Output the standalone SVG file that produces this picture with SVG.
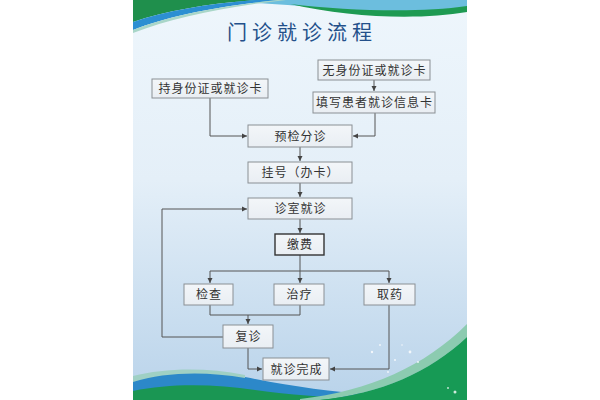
<svg xmlns="http://www.w3.org/2000/svg" width="600" height="400" viewBox="0 0 600 400">
<defs>
<linearGradient id="bg" x1="0" y1="0" x2="0" y2="1">
<stop offset="0" stop-color="#eef6fc"/>
<stop offset="0.45" stop-color="#e4eff8"/>
<stop offset="1" stop-color="#b9d3ea"/>
</linearGradient>
<linearGradient id="boxfill" x1="0" y1="0" x2="0" y2="1">
<stop offset="0" stop-color="#f3f6f9"/>
<stop offset="1" stop-color="#e9eef3"/>
</linearGradient>
<marker id="ah" markerWidth="6" markerHeight="6" refX="5" refY="3" orient="auto" markerUnits="userSpaceOnUse">
<path d="M0,0.5 L5,3 L0,5.5 Z" fill="#444"/>
</marker>
<style>
.box{fill:url(#boxfill);stroke:#8a8f94;stroke-width:1}
.box.dark{stroke:#333;stroke-width:1.4}
.lbl{font-family:"Noto Sans CJK SC","Noto Sans",sans-serif;font-size:12px;fill:#333;text-anchor:middle;letter-spacing:1px}
.title{font-family:"Noto Sans CJK SC","Noto Sans",sans-serif;font-size:20px;fill:#23508a;text-anchor:middle;letter-spacing:5px}
.ln{fill:none;stroke:#555;stroke-width:1}
</style>
</defs>
<rect width="600" height="400" fill="#ffffff"/>
<rect x="133" y="0" width="334" height="400" fill="url(#bg)"/>
<!-- top swooshes -->
<path d="M200,0 H467 V7 C420,13 360,12 300,6 C260,3 230,1 200,0 Z" fill="#6cbede"/>
<path d="M290,4 C350,11 420,13 467,6 V12 C420,20 350,18 290,4 Z" fill="#1e9a52"/>
<path d="M133,0 H255 C205,4 165,11 133,22 Z" fill="#1f8f4c"/>
<path d="M133,22 C165,11 205,4 255,0 H278 C218,6 168,16 133,30 Z" fill="#2c8fd2"/>
<path d="M133,30 C168,16 218,6 278,0 H286 C224,7 172,18 133,33 Z" fill="#a9d6c8"/>
<!-- bottom swooshes -->
<path d="M133,380 C165,370 205,369 245,377 C290,386 330,392 370,394 L370,400 H133 Z" fill="#2c88c9"/>
<path d="M133,376 C165,368 205,367 245,375 L245,378 C205,371 165,372 133,382 Z" fill="#9fd0c4"/>
<path d="M133,391 C170,383 215,384 255,390 C300,396 340,399 380,397 L380,400 H133 Z" fill="#1a9653"/>
<path d="M300,399 C370,391 425,366 467,324 V337 C430,372 380,394 320,400 H300 Z" fill="#8ccbb0"/>
<path d="M320,400 C380,394 430,372 467,337 V400 Z" fill="#179a55"/>
<g fill="#ffffff" opacity="0.8">
<circle cx="372" cy="352" r="1.2"/><circle cx="380" cy="345" r="0.9"/><circle cx="395" cy="360" r="1"/>
<circle cx="410" cy="352" r="1.4"/><circle cx="418" cy="362" r="1"/><circle cx="388" cy="372" r="0.9"/>
<circle cx="455" cy="392" r="1.5"/><circle cx="448" cy="388" r="0.9"/><circle cx="402" cy="345" r="0.8"/>
</g>
<text class="title" x="302" y="40">门诊就诊流程</text>
<g id="connectors">
<path class="ln" d="M374,80 V91" marker-end="url(#ah)"/>
<path class="ln" d="M210,98 V136 H247" marker-end="url(#ah)"/>
<path class="ln" d="M375,113 V136 H353" marker-end="url(#ah)"/>
<path class="ln" d="M300,147 V161" marker-end="url(#ah)"/>
<path class="ln" d="M300,183 V197" marker-end="url(#ah)"/>
<path class="ln" d="M300,219 V233" marker-end="url(#ah)"/>
<path class="ln" d="M300,255 V283" marker-end="url(#ah)"/>
<path class="ln" d="M210,271 H389"/>
<path class="ln" d="M210,271 V283" marker-end="url(#ah)"/>
<path class="ln" d="M389,271 V283" marker-end="url(#ah)"/>
<path class="ln" d="M210,305 V315 H300 V305"/>
<path class="ln" d="M248,315 V324" marker-end="url(#ah)"/>
<path class="ln" d="M223,337 H162 V209 H247" marker-end="url(#ah)"/>
<path class="ln" d="M248,348 V369 H262" marker-end="url(#ah)"/>
<path class="ln" d="M389,305 V369 H330" marker-end="url(#ah)"/>
</g>
<g id="n1"><rect class="box" x="318" y="60" width="112" height="20"/><text class="lbl" x="374.5" y="74.5">无身份证或就诊卡</text></g>
<g id="n2"><rect class="box" x="152" y="79" width="116" height="19"/><text class="lbl" x="210.5" y="93">持身份证或就诊卡</text></g>
<g id="n3"><rect class="box" x="313" y="92" width="122" height="21"/><text class="lbl" x="374.5" y="107">填写患者就诊信息卡</text></g>
<g id="n4"><rect class="box" x="248" y="125" width="104" height="22"/><text class="lbl" x="300.5" y="140.5">预检分诊</text></g>
<g id="n5"><rect class="box" x="248" y="162" width="104" height="21"/><text class="lbl" x="300.5" y="177">挂号（办卡）</text></g>
<g id="n6"><rect class="box" x="248" y="198" width="104" height="21"/><text class="lbl" x="300.5" y="213">诊室就诊</text></g>
<g id="n7"><rect class="box dark" x="275" y="234" width="49" height="21"/><text class="lbl" x="300" y="249">缴费</text></g>
<g id="n8"><rect class="box" x="184" y="284" width="49" height="21"/><text class="lbl" x="209" y="299">检查</text></g>
<g id="n9"><rect class="box" x="274" y="284" width="50" height="21"/><text class="lbl" x="299.5" y="299">治疗</text></g>
<g id="n10"><rect class="box" x="364" y="284" width="51" height="21"/><text class="lbl" x="390" y="299">取药</text></g>
<g id="n11"><rect class="box" x="223" y="325" width="50" height="23"/><text class="lbl" x="248.5" y="341">复诊</text></g>
<g id="n12"><rect class="box" x="263" y="358" width="66" height="22"/><text class="lbl" x="296.5" y="373.5">就诊完成</text></g>
</svg>
